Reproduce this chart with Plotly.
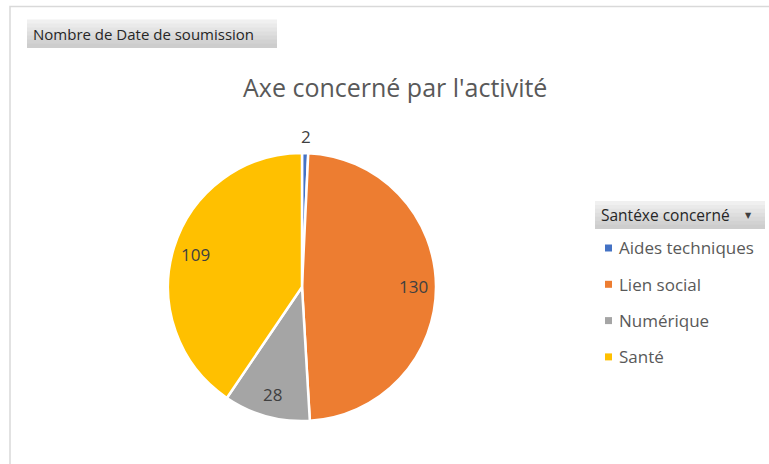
import math
import plotly.graph_objects as go

W, H = 769, 464

# data
labels = ["Aides techniques", "Lien social", "Numérique", "Santé"]
values = [2, 130, 28, 109]
colors = ["#4472C4", "#ED7D31", "#A5A5A5", "#FFC000"]

title = "Axe concerné par l'activité"
field_btn = "Nombre de Date de soumission"
legend_btn = "Santéxe concerné"

FONT = "Open Sans"
TXT = "#595959"


def px(x):
    return x / W


def py(y):
    return 1 - y / H


# pie placement (pixels)
cx, cy, r = 302, 287, 134

fig = go.Figure()
fig.add_trace(go.Pie(
    labels=labels, values=values, sort=False, direction="clockwise", rotation=0,
    marker=dict(colors=colors, line=dict(color="white", width=2.5)),
    textinfo="none",
    domain=dict(x=[px(cx - r), px(cx + r)], y=[py(cy + r), py(cy - r)]),
    showlegend=False, hoverinfo="label+value",
))

shapes = []
annotations = []

# data labels, Excel "best fit" style: inside near the rim, tiny slice outside
total = sum(values)
cum = 0
for v in values:
    mid = (cum + v / 2) / total * 2 * math.pi
    cum += v
    dist = r * 0.83 if v / total > 0.05 else r + 17
    annotations.append(dict(text=str(v), x=px(cx + dist * math.sin(mid)),
                            y=py(cy - dist * math.cos(mid)), xref="paper", yref="paper",
                            xanchor="center", yanchor="middle", showarrow=False,
                            font=dict(family=FONT, size=17, color="#404040")))

# outer frame
shapes.append(dict(type="rect", xref="paper", yref="paper",
                   x0=px(10), x1=px(W + 5), y0=py(H + 5), y1=py(6.5),
                   line=dict(color="#d9d9d9", width=1.5), fillcolor="rgba(0,0,0,0)"))


def button(x0, x1, y0, y1):
    # grey gradient button drawn as stacked bands
    tones = ["#f0f0f0", "#eaeaea", "#e4e4e4", "#dedede", "#d8d8d8", "#d2d2d2", "#cdcdcd"]
    h = (y1 - y0) / len(tones)
    for i, c in enumerate(tones):
        shapes.append(dict(type="rect", xref="paper", yref="paper",
                           x0=px(x0), x1=px(x1), y0=py(y0 + (i + 1) * h + 0.5), y1=py(y0 + i * h),
                           line=dict(width=0), fillcolor=c, layer="below"))


button(27, 277, 19.5, 47.5)
annotations.append(dict(text=field_btn, x=px(31), y=py(34), xref="paper", yref="paper",
                        xanchor="left", yanchor="middle", showarrow=False,
                        font=dict(family=FONT, size=15, color="#262626")))

button(595, 765, 201, 228.5)
annotations.append(dict(text=legend_btn, x=px(599), y=py(215), xref="paper", yref="paper",
                        xanchor="left", yanchor="middle", showarrow=False,
                        font=dict(family=FONT, size=15.5, color="#262626")))
annotations.append(dict(text="▼", x=px(748), y=py(215), xref="paper", yref="paper",
                        xanchor="center", yanchor="middle", showarrow=False,
                        font=dict(family="DejaVu Sans", size=8, color="#404040")))

# legend entries built from the data lists
for i, (lab, col) in enumerate(zip(labels, colors)):
    yc = 248 + i * 36.3
    shapes.append(dict(type="rect", xref="paper", yref="paper",
                       x0=px(605), x1=px(612), y0=py(yc + 3.5), y1=py(yc - 3.5),
                       line=dict(width=0), fillcolor=col))
    annotations.append(dict(text=lab, x=px(617), y=py(yc), xref="paper", yref="paper",
                            xanchor="left", yanchor="middle", showarrow=False,
                            font=dict(family=FONT, size=17, color=TXT)))

annotations.append(dict(text=title, x=px(395), y=py(87), xref="paper", yref="paper",
                        xanchor="center", yanchor="middle", showarrow=False,
                        font=dict(family=FONT, size=25, color=TXT)))

fig.update_layout(
    width=W, height=H,
    margin=dict(l=0, r=0, t=0, b=0),
    paper_bgcolor="white", plot_bgcolor="white",
    shapes=shapes, annotations=annotations,
)

fig.write_html("out.html", config={"displayModeBar": False},
               post_script="document.body.style.margin='0';")
